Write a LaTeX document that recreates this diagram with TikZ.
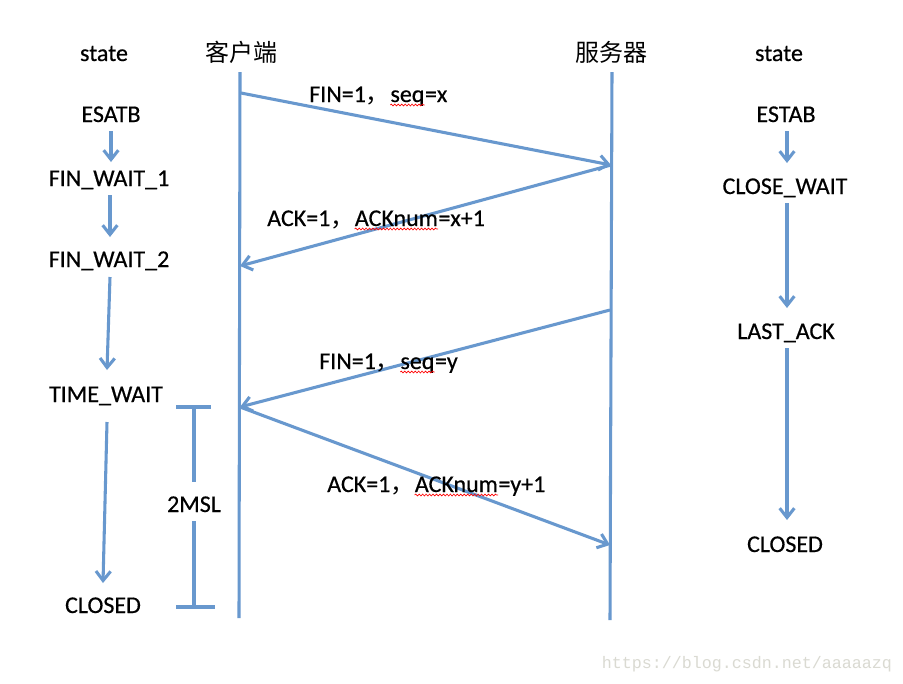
\documentclass[tikz,border=0pt]{standalone}
\usepackage{fontspec}
\setmainfont{Carlito}
\newfontfamily\mainf{Carlito}[FakeBold=0.5]
\newfontfamily\cjk{Noto Sans CJK SC}
\newfontfamily\wmfont{Liberation Mono}
\usetikzlibrary{arrows.meta,calc,decorations.pathmorphing}
\definecolor{lineblue}{RGB}{104,152,206}
\definecolor{wmgray}{RGB}{218,218,210}
\begin{document}
\begin{tikzpicture}[x=0.75pt,y=-0.75pt,
  txt/.style={font=\mainf\fontsize{18pt}{20pt}\selectfont, inner sep=0pt, anchor=base},
  cn/.style={font=\cjk\fontsize{18pt}{20pt}\selectfont, inner sep=0pt, anchor=base},
  lbl/.style={txt, anchor=base west},
  line/.style={draw=lineblue, line width=2.3pt},
  arr/.style={line, -{Straight Barb[length=7pt,width=11pt]}},
  wave/.style={draw=red, line width=0.5pt, decorate, decoration={snake, amplitude=0.7pt, segment length=2.6pt}}
]
\useasboundingbox[fill=white] (0,0) rectangle (903,683);

% headers
\node[txt] (lstate) at (104,61) {state};
\node[txt] (rstate) at (779,61) {state};
\node[cn] (client) at (241,61) {客户端};
\node[cn] (server) at (611,61) {服务器};

% left states
\node[txt] (esatb) at (111,122) {ESATB};
\node[txt] (fw1) at (109,186) {FIN\_WAIT\_1};
\node[txt] (fw2) at (109,267) {FIN\_WAIT\_2};
\node[txt] (tw) at (106,402) {TIME\_WAIT};
\node[txt] (lclosed) at (103,613) {CLOSED};

% right states
\node[txt] (estab) at (786,122) {ESTAB};
\node[txt] (cw) at (785,194) {CLOSE\_WAIT};
\node[txt] (la) at (786,339) {LAST\_ACK};
\node[txt] (rclosed) at (785,552) {CLOSED};

% state arrows
\draw[arr] ($(esatb.base)+(0,9)$) -- ($(fw1.base)+(2,-24)$);
\draw[arr] ($(fw1.base)+(1,9)$) -- ($(fw2.base)+(1,-30)$);
\draw[arr] ($(fw2.base)+(1,10)$) -- ($(tw.base)+(1,-32)$);
\draw[arr] ($(tw.base)+(1,20)$) -- ($(lclosed.base)+(0,-30)$);
\draw[arr] ($(estab.base)+(1,9)$) -- ($(cw.base)+(2,-31)$);
\draw[arr] ($(cw.base)+(2,9)$) -- ($(la.base)+(1,-31)$);
\draw[arr] ($(la.base)+(1,9)$) -- ($(rclosed.base)+(2,-32)$);

% lifelines
\coordinate (ctop) at (240,72);
\coordinate (cbot) at (239,618);
\coordinate (stop) at (612,72);
\coordinate (sbot) at (610,620);
\draw[line] (ctop) -- (cbot);
\draw[line] (stop) -- (sbot);

% message endpoints
\coordinate (m1s) at (241,93);
\coordinate (m1e) at (611,165);
\coordinate (m2e) at (240,266);
\coordinate (m3s) at (610,310);
\coordinate (m3e) at (240,407);
\coordinate (m4e) at (610,545);
\draw[arr] (m1s) -- (m1e);
\draw[arr] (m1e) -- (m2e);
\draw[arr] (m3s) -- (m3e);
\draw[arr] (m3e) -- (m4e);

% message labels
\node[lbl] (l1a) at (309,102) {FIN=1{\cjk ，}};
\node[lbl] (l1b) at (l1a.base east) {seq};
\node[lbl] (l1c) at (l1b.base east) {=x};
\draw[wave] ($(l1b.base west)+(0,3)$) -- ($(l1b.base east)+(0,3)$);

\node[lbl] (l2a) at (267,226) {ACK=1{\cjk ，}};
\node[lbl] (l2b) at (l2a.base east) {ACKnum};
\node[lbl] (l2c) at (l2b.base east) {=x+1};
\draw[wave] ($(l2b.base west)+(0,3)$) -- ($(l2b.base east)+(0,3)$);

\node[lbl] (l3a) at (319,369) {FIN=1{\cjk ，}};
\node[lbl] (l3b) at (l3a.base east) {seq};
\node[lbl] (l3c) at (l3b.base east) {=y};
\draw[wave] ($(l3b.base west)+(0,3)$) -- ($(l3b.base east)+(0,3)$);

\node[lbl] (l4a) at (327,492) {ACK=1{\cjk ，}};
\node[lbl] (l4b) at (l4a.base east) {ACKnum};
\node[lbl] (l4c) at (l4b.base east) {=y+1};
\draw[wave] ($(l4b.base west)+(0,3)$) -- ($(l4b.base east)+(0,3)$);

% 2MSL bracket
\node[txt] (msl) at (194,512) {2MSL};
\coordinate (mtl) at (176,407);
\coordinate (mtr) at (211,407);
\coordinate (mtm) at (194,407);
\coordinate (mbl) at (176,607);
\coordinate (mbr) at (215,607);
\coordinate (mbm) at (194,607);
\draw[line] (mtl) -- (mtr);
\draw[line] (mbl) -- (mbr);
\draw[line] (mtm) -- ($(msl.base)+(0,-30)$);
\draw[line] ($(msl.base)+(0,9)$) -- (mbm);

% watermark
\node[font=\wmfont\fontsize{12.5pt}{14pt}\selectfont, text=wmgray, inner sep=0pt, anchor=base] (wm) at (747,668) {https://blog.csdn.net/aaaaazq};
\end{tikzpicture}
\end{document}
